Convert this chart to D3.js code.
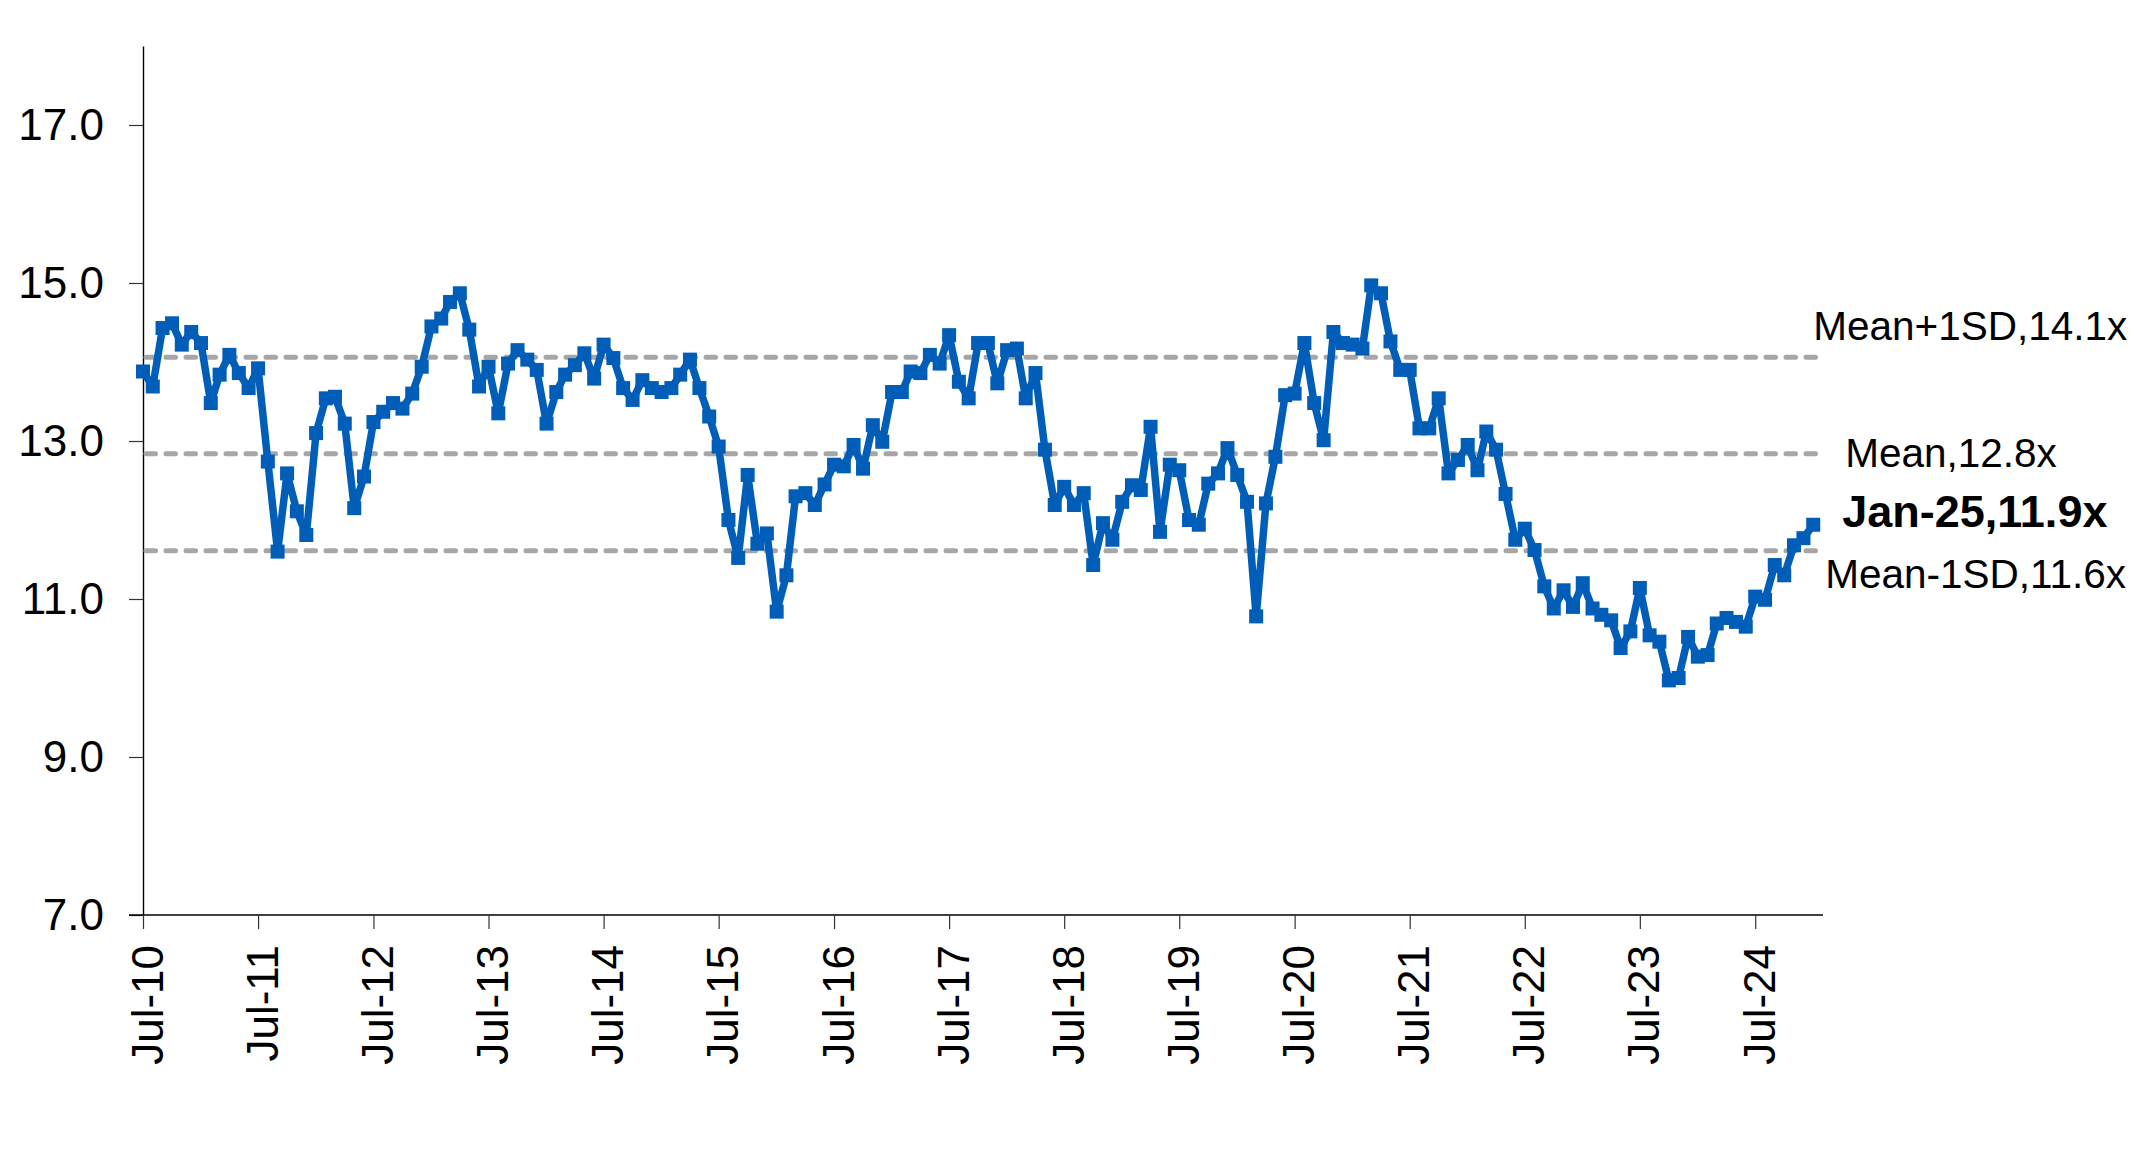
<!DOCTYPE html>
<html>
<head>
<meta charset="utf-8">
<script src="https://cdn.jsdelivr.net/npm/d3@7"></script>
<style>
  body { margin: 0; background: #fff; }
  text { font-family: "Liberation Sans", Arial, sans-serif; fill: #000; }
</style>
</head>
<body>
<svg id="chart"></svg>
<script>
// monthly P/E, Jul-10 .. Jan-25
var startMonth = new Date(2010, 6, 1);
var peValues = [
  13.88, 13.69, 14.43, 14.49, 14.22, 14.38, 14.24, 13.48, 13.84, 14.09, 13.86, 13.67,
  13.92, 12.74, 11.60, 12.59, 12.11, 11.81, 13.10, 13.54, 13.56, 13.22, 12.15, 12.55,
  13.24, 13.37, 13.48, 13.41, 13.60, 13.94, 14.45, 14.55, 14.76, 14.87, 14.41, 13.69,
  13.94, 13.35, 13.98, 14.15, 14.03, 13.90, 13.22, 13.62, 13.84, 13.96, 14.11, 13.79,
  14.22, 14.05, 13.67, 13.52, 13.77, 13.67, 13.62, 13.67, 13.84, 14.03, 13.67, 13.31,
  12.93, 12.00, 11.52, 12.57, 11.70, 11.83, 10.84, 11.30, 12.30, 12.34, 12.19, 12.45,
  12.70, 12.68, 12.95, 12.65, 13.20, 12.99, 13.62, 13.62, 13.88, 13.86, 14.09, 13.98,
  14.34, 13.75, 13.54, 14.24, 14.24, 13.73, 14.15, 14.17, 13.54, 13.86, 12.89, 12.19,
  12.42, 12.19, 12.34, 11.43, 11.96, 11.75, 12.23, 12.44, 12.38, 13.18, 11.85, 12.70,
  12.63, 12.00, 11.94, 12.46, 12.59, 12.91, 12.57, 12.23, 10.78, 12.21, 12.80, 13.58,
  13.60, 14.24, 13.48, 13.01, 14.38, 14.24, 14.22, 14.17, 14.97, 14.87, 14.26, 13.90,
  13.90, 13.16, 13.16, 13.54, 12.59, 12.76, 12.95, 12.63, 13.12, 12.89, 12.33, 11.75,
  11.89, 11.62, 11.16, 10.88, 11.11, 10.90, 11.20, 10.88, 10.80, 10.73, 10.38, 10.59,
  11.14, 10.54, 10.46, 9.97, 10.00, 10.52, 10.27, 10.29, 10.69, 10.76, 10.71, 10.65,
  11.03, 10.99, 11.43, 11.30, 11.68, 11.77, 11.94
];
var refLevels = [14.06, 12.84, 11.61];
var refLabels = ["Mean+1SD,14.1x", "Mean,12.8x", "Mean-1SD,11.6x"];
var lastLabel = "Jan-25,11.9x";
var yTicks = [7, 9, 11, 13, 15, 17];
var xTickYears = [2010, 2011, 2012, 2013, 2014, 2015, 2016, 2017, 2018, 2019, 2020, 2021, 2022, 2023, 2024];

var W = 2145, H = 1157;
var plotL = 143, plotR = 1823, plotT = 46, plotB = 915;
var blue = "#005EB8", grey = "#A6A6A6";

var months = peValues.map(function(d, i){ return d3.timeMonth.offset(startMonth, i); });
var data = peValues.map(function(v, i){ return {date: months[i], v: v}; });

var svg = d3.select("#chart").attr("width", W).attr("height", H);

var x = d3.scaleTime()
    .domain([startMonth, d3.timeMonth.offset(startMonth, peValues.length)])
    .range([plotL, plotR]);
var y = d3.scaleLinear().domain([7, 18]).range([plotB, plotT]);

// y axis
var gy = svg.append("g").attr("transform", "translate(" + plotL + ",0)")
    .call(d3.axisLeft(y).tickValues(yTicks).tickSize(14).tickSizeOuter(0)
          .tickPadding(25).tickFormat(d3.format(".1f")));
gy.select(".domain").attr("stroke-width", 1.4);
gy.selectAll(".tick line").attr("stroke", "#333").attr("stroke-width", 1.2);
gy.selectAll("text").style("font-size", "44px");

// x axis
var julys = xTickYears.map(function(yr){ return new Date(yr, 6, 1); });
var gx = svg.append("g").attr("transform", "translate(0," + plotB + ")")
    .call(d3.axisBottom(x).tickValues(julys).tickSize(14).tickSizeOuter(0)
          .tickFormat(d3.timeFormat("%b-%y")));
gx.select(".domain").attr("d", "M" + (plotL - 14) + ",0H" + plotR).attr("stroke-width", 1.4);
gx.selectAll(".tick line").attr("stroke", "#333").attr("stroke-width", 1.2);
gx.selectAll("text")
    .attr("transform", "rotate(-90)")
    .attr("text-anchor", "end")
    .attr("x", -30).attr("y", 0).attr("dy", 19)
    .style("font-size", "44px");

// mean / sd lines
var x0 = x(months[0]) + 3, x1 = x(months[months.length - 1]) + 5;
svg.selectAll("line.ref").data(refLevels).enter().append("line")
    .attr("class", "ref")
    .attr("x1", x0).attr("x2", x1)
    .attr("y1", function(d){ return y(d); }).attr("y2", function(d){ return y(d); })
    .attr("stroke", grey).attr("stroke-width", 5)
    .attr("stroke-dasharray", "9.5,10.5").attr("stroke-linecap", "round");

// P/E line + square markers
var line = d3.line().x(function(d){ return x(d.date); }).y(function(d){ return y(d.v); });
svg.append("path").datum(data)
    .attr("d", line).attr("fill", "none")
    .attr("stroke", blue).attr("stroke-width", 7.5).attr("stroke-linejoin", "round");
svg.selectAll("rect.pt").data(data).enter().append("rect")
    .attr("class", "pt")
    .attr("x", function(d){ return x(d.date) - 7; })
    .attr("y", function(d){ return y(d.v) - 7; })
    .attr("width", 14).attr("height", 14)
    .attr("fill", blue);

// labels
var lx = x(months[months.length - 1]);
var refDx = [0, 32, 12], refDy = [-17, 13, 37];
svg.selectAll("text.ref").data(refLevels).enter().append("text")
    .attr("class", "ref")
    .attr("x", function(d, i){ return lx + refDx[i]; })
    .attr("y", function(d, i){ return y(d) + refDy[i]; })
    .style("font-size", "40.5px")
    .text(function(d, i){ return refLabels[i]; });
svg.append("text")
    .attr("x", lx + 29)
    .attr("y", y(peValues[peValues.length - 1]) + 2)
    .style("font-size", "45px").style("font-weight", "bold")
    .text(lastLabel);
</script>
</body>
</html>
